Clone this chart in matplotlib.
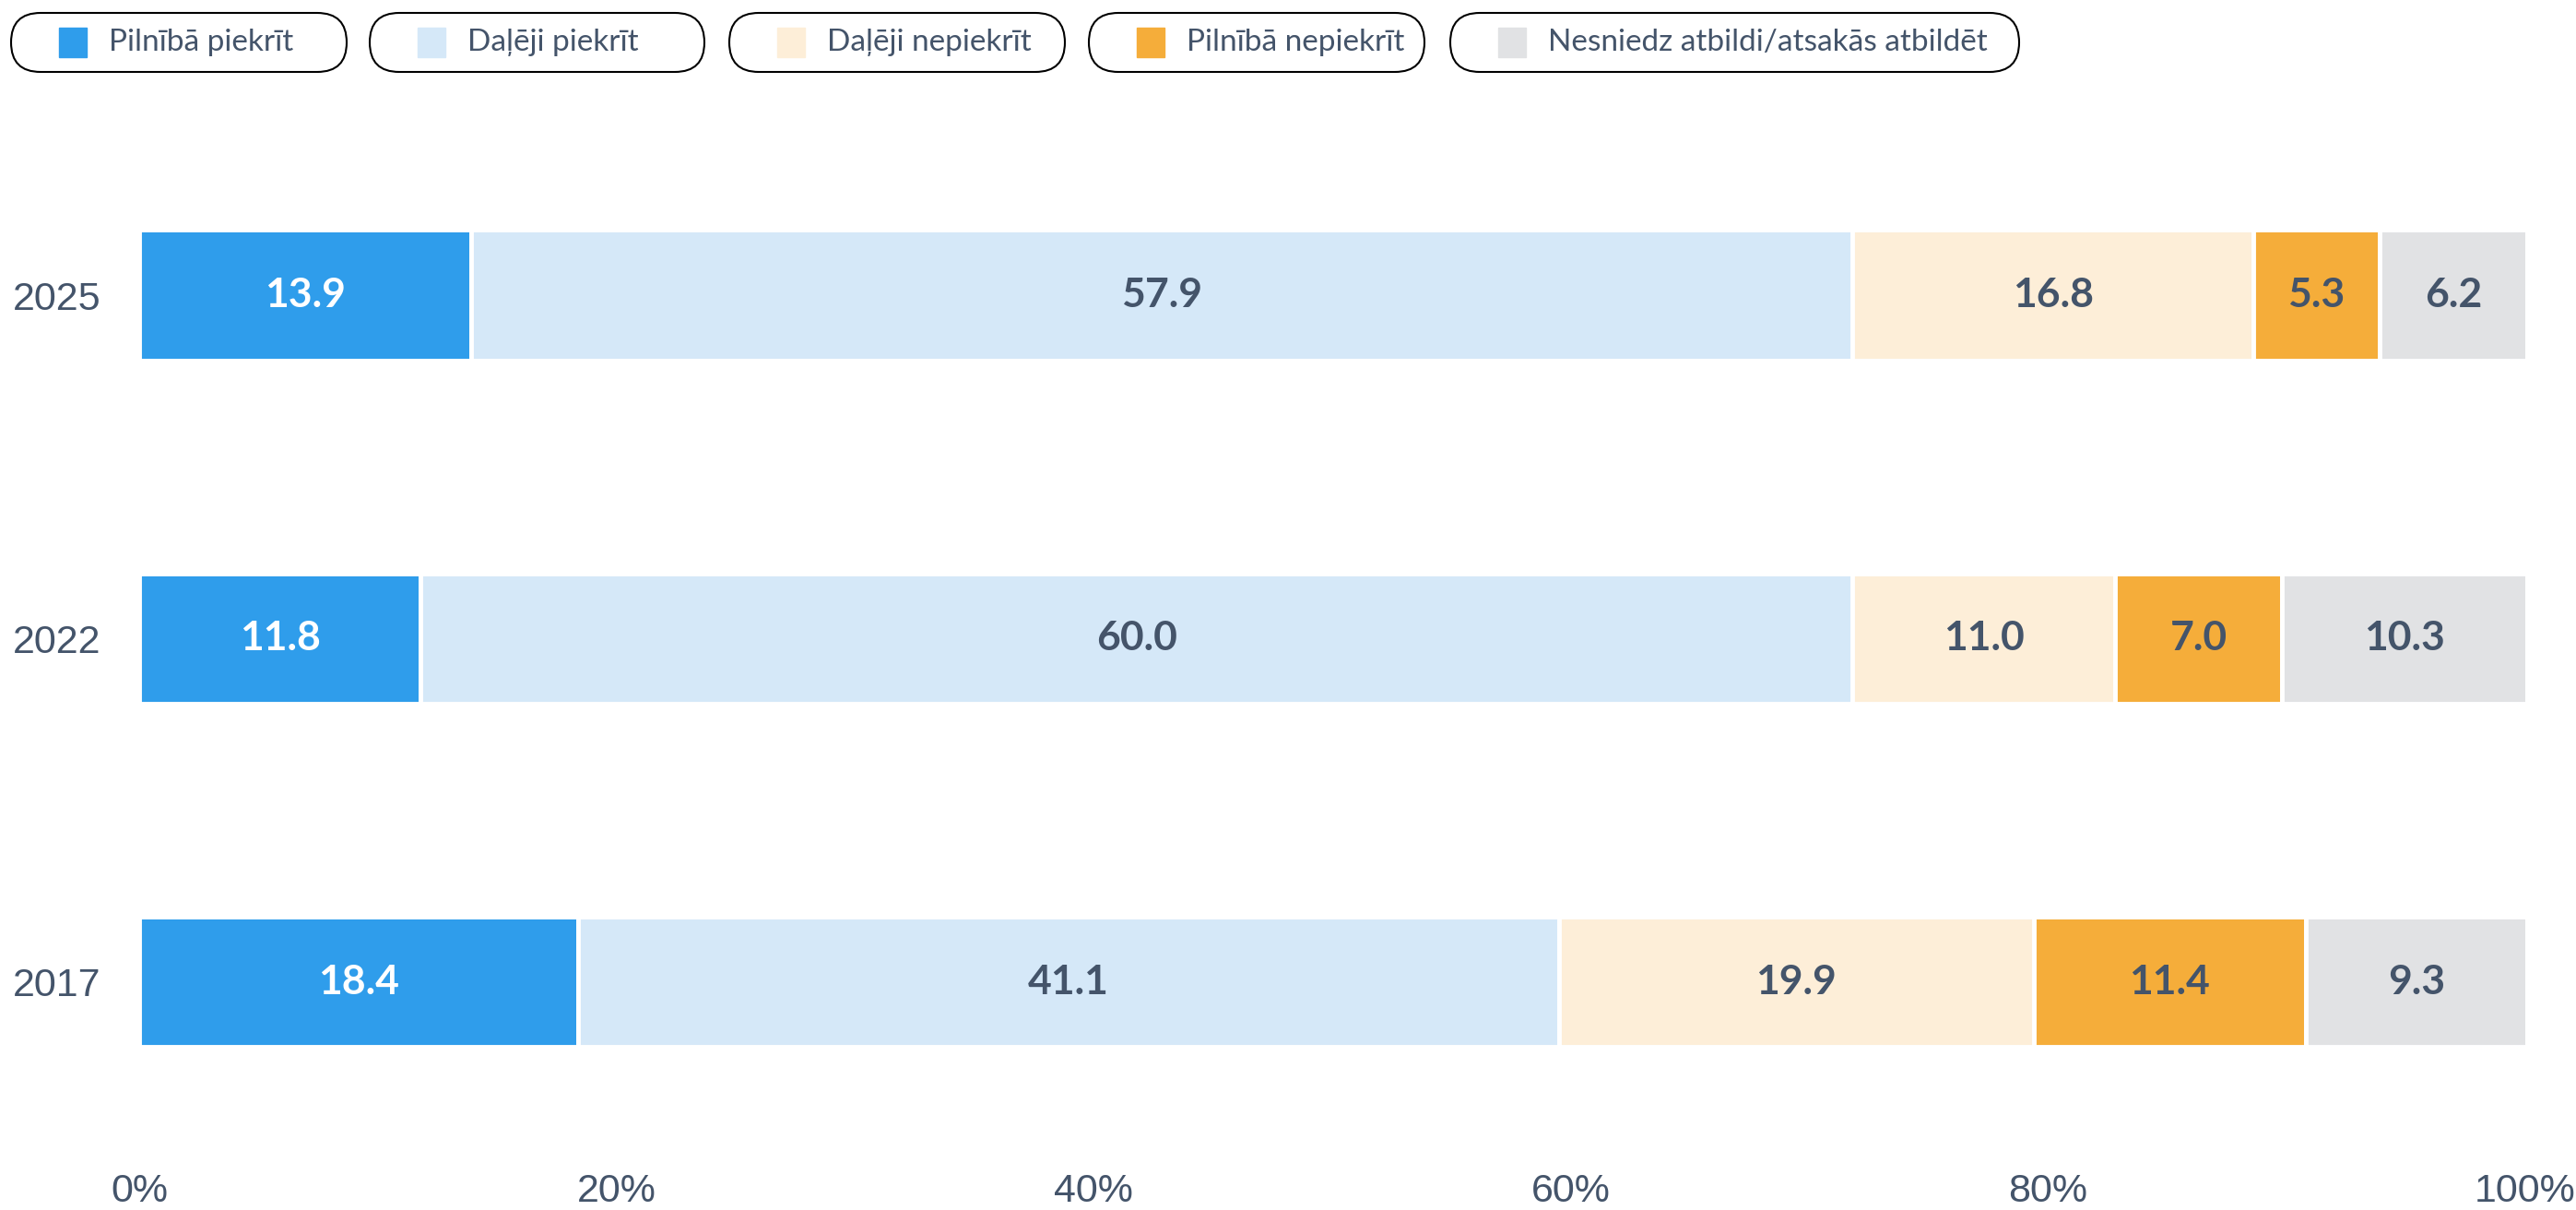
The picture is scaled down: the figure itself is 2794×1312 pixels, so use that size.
import matplotlib.pyplot as plt
from matplotlib.patches import FancyBboxPatch, Rectangle

years = ['2025', '2022', '2017']
categories = ['Pilnībā piekrīt', 'Daļēji piekrīt', 'Daļēji nepiekrīt',
              'Pilnībā nepiekrīt', 'Nesniedz atbildi/atsakās atbildēt']
fully_agree = [13.9, 11.8, 18.4]
partly_agree = [57.9, 60.0, 41.1]
partly_disagree = [16.8, 11.0, 19.9]
fully_disagree = [5.3, 7.0, 11.4]
no_answer = [6.2, 10.3, 9.3]
xticks = [0, 20, 40, 60, 80, 100]

colors = ['#2f9deb', '#d5e8f8', '#fdeed8', '#f5ad3a', '#e1e2e4']
label_colors = ['white', '#44546a', '#44546a', '#44546a', '#44546a']
txt = '#44546a'
W, H = 2794, 1312

fig = plt.figure(figsize=(W / 100, H / 100), dpi=100)
ax = fig.add_axes([151 / W, 1 - 1230 / H, (2739 - 151) / W, (1230 - 180) / H])

series = [fully_agree, partly_agree, partly_disagree, fully_disagree, no_answer]
y = range(len(years))
left = [0.0] * len(years)
for vals, col, lc in zip(series, colors, label_colors):
    ax.barh(y, vals, left=left, height=0.38, color=col,
            edgecolor='white', linewidth=3.5)
    for i, v in enumerate(vals):
        ax.text(left[i] + v / 2, i, '%.1f' % v, ha='center', va='center',
                color=lc, fontsize=32, fontweight='bold',
                family=['Lato', 'DejaVu Sans'])
    left = [l + v for l, v in zip(left, vals)]

ax.set_xlim(0, 100)
ax.set_ylim(2.444, -0.376)
ax.set_yticks(list(y))
ax.set_yticklabels(years)
ax.set_xticks(xticks)
ax.set_xticklabels(['%d%%' % t for t in xticks])
ax.tick_params(length=0, colors=txt, labelsize=31)
ax.tick_params(axis='x', pad=30)
ax.tick_params(axis='y', pad=30)
for lab in ax.get_xticklabels() + ax.get_yticklabels():
    lab.set_family(['Liberation Sans', 'DejaVu Sans'])
for s in ax.spines.values():
    s.set_visible(False)

# legend: rounded pill boxes along the top, drawn in pixel space
lg = fig.add_axes([0, 0, 1, 1], zorder=5)
lg.set_xlim(0, W)
lg.set_ylim(H, 0)
lg.axis('off')
lg.patch.set_alpha(0)
boxes = [(12, 376), (401, 764), (791, 1155), (1181, 1545), (1573, 2190)]
y0, y1 = 14, 78
for (x0, x1), cat, col in zip(boxes, categories, colors):
    lg.add_patch(FancyBboxPatch((x0, y0), x1 - x0, y1 - y0,
                                boxstyle='round,pad=0,rounding_size=32',
                                facecolor='white', edgecolor='black', linewidth=1.5))
    lg.add_patch(Rectangle((x0 + 52, 30), 30, 32, color=col))
    lg.text(x0 + 106, 46, cat, color=txt, fontsize=24,
            va='center', ha='left', family=['Lato', 'DejaVu Sans'])

fig.savefig('out.png', dpi=100)
